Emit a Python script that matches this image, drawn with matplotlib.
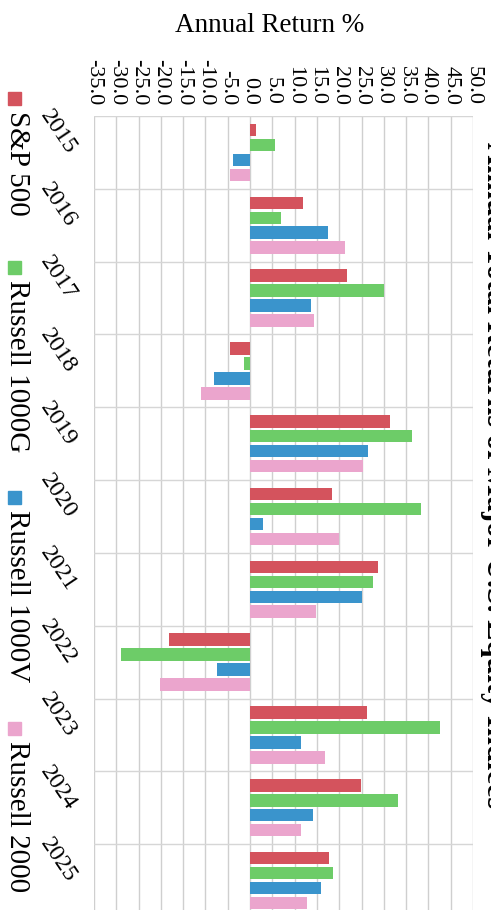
import matplotlib
matplotlib.use("Agg")
import matplotlib.pyplot as plt
from matplotlib.patches import Rectangle
import numpy as np

# ---- data ----
years = ["2015", "2016", "2017", "2018", "2019", "2020", "2021", "2022", "2023", "2024", "2025"]
sp500 = [1.4, 11.9, 21.8, -4.4, 31.4, 18.4, 28.6, -18.1, 26.2, 24.9, 17.8]
r1000g = [5.7, 7.0, 30.1, -1.4, 36.3, 38.4, 27.5, -29.0, 42.5, 33.2, 18.5]
r1000v = [-3.8, 17.5, 13.7, -8.1, 26.4, 2.8, 25.1, -7.4, 11.4, 14.2, 15.9]
r2000 = [-4.5, 21.2, 14.4, -10.9, 25.4, 20.0, 14.9, -20.3, 16.9, 11.5, 12.7]
series_names = ["S&P 500", "Russell 1000G", "Russell 1000V", "Russell 2000"]
tick_values = list(range(-35, 55, 5))
tick_labels = [f"{v:.1f}" for v in tick_values]
axis_label = "Annual Return %"
title_text = "Annual Total Returns of Major U.S. Equity Indices"

colors = ["#d4535d", "#6dcc68", "#3a94cc", "#eba5cd"]
serif = ["Liberation Serif", "DejaVu Serif"]
plt.rcParams["font.family"] = serif

W, H = 491, 910
fig = plt.figure(figsize=(W / 100, H / 100), dpi=100)
fig.patch.set_facecolor("white")

def fx(px):
    return px / W

def fy(py):
    return 1 - py / H

# axes spanning -35..50 horizontally (x 94..473 px), groups top 116 .. bottom 917 px
ax = fig.add_axes([fx(94), fy(917), fx(473) - fx(94), fy(116) - fy(917)])

all_series = [sp500, r1000g, r1000v, r2000]
n = len(years)
pos = np.arange(n)
slot = 0.205
bar_h = 0.172
for k, (vals, c, name) in enumerate(zip(all_series, colors, series_names)):
    off = (k - 1.5) * slot
    ax.barh(pos + off, vals, height=bar_h, color=c, label=name, zorder=3)

ax.set_xlim(-35, 50)
ax.set_ylim(n - 0.5, -0.5)

ax.set_xticks(tick_values)
ax.set_xticklabels(tick_labels, rotation=-90, fontsize=16)
ax.xaxis.tick_top()
ax.tick_params(axis="x", length=0, pad=8)

ax.set_yticks(pos)
ax.set_yticklabels(years, fontsize=17.5, rotation=-56, ha="right", va="center",
                   rotation_mode="anchor")
ax.tick_params(axis="y", length=0, pad=16)
ax.set_yticks(np.arange(n + 1) - 0.5, minor=True)
ax.tick_params(axis="y", which="minor", length=0)

ax.grid(axis="x", which="major", color="#cfcfcf", lw=1.0, zorder=0)
ax.grid(axis="y", which="minor", color="#d6d6d6", lw=1.0, zorder=0)
for s in ax.spines.values():
    s.set_visible(False)

# axis title on top
fig.text(fx(270), fy(25), axis_label, ha="center", va="center", fontsize=19.5)

# rotated legend at far left
legend_marker_y = [98, 267, 497, 728]
for name, c, my in zip(series_names, colors, legend_marker_y):
    fig.add_artist(Rectangle((fx(8), fy(my + 6.5)), fx(13), 13 / H,
                             transform=fig.transFigure, color=c))
    fig.text(fx(17), fy(my + 13), name, rotation=-90, ha="center", va="top",
             fontsize=21)

# title on the right edge, mostly cut off (as in the reference scan)
fig.text(fx(480), fy(475), title_text, rotation=-90, ha="left", va="center",
         fontsize=22, fontweight="bold")

fig.savefig("out.png", dpi=100)
